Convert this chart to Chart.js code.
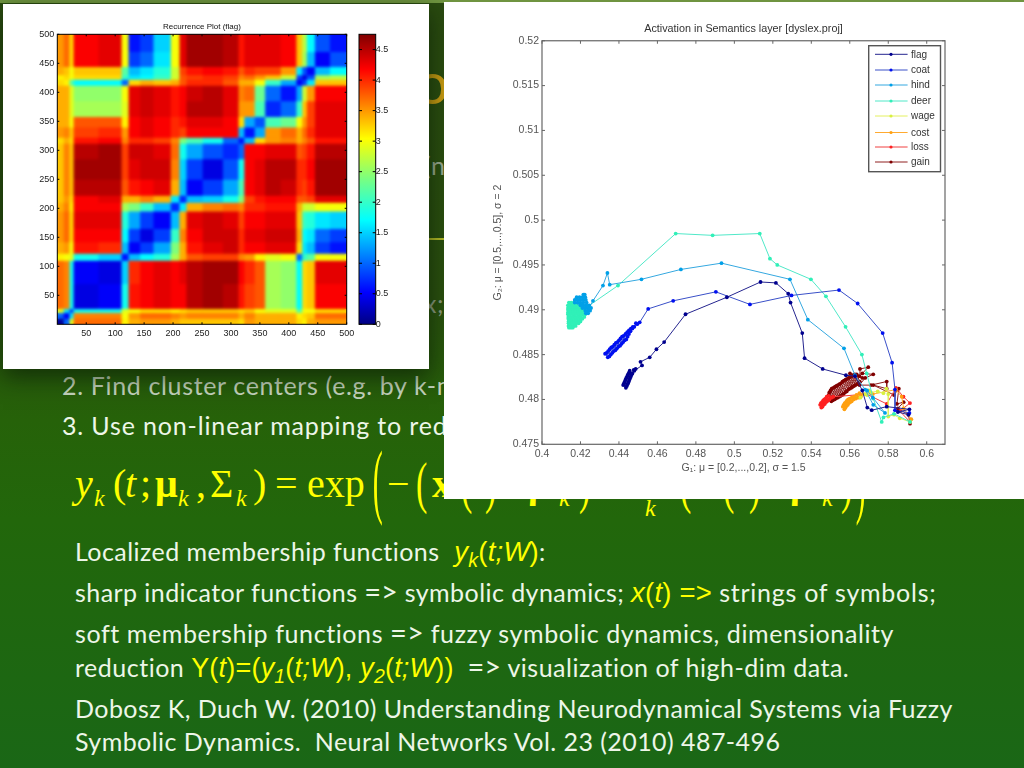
<!DOCTYPE html>
<html>
<head>
<meta charset="utf-8">
<script src="https://cdn.jsdelivr.net/npm/chart.js@4/dist/chart.umd.min.js"></script>
<style>
html,body{margin:0;padding:0;}
body{width:1024px;height:768px;overflow:hidden;position:relative;
 background:linear-gradient(#2a4a10 0,#2a4f0f 300px,#266209 420px,#22670b 520px,#1a6716 768px);}
#strip{position:absolute;left:0;top:0;width:1024px;height:3px;background:#6f9440;}
.panel{position:absolute;background:#fff;}
.panel canvas{position:absolute;left:0;top:0;filter:blur(.5px);}
#p1{left:3px;top:4px;width:426px;height:365px;box-shadow:0 8px 22px rgba(10,30,5,.7);}
#p2{left:444px;top:2px;width:580px;height:497px;}
.t{position:absolute;white-space:pre;font-family:Lato,"Open Sans",sans-serif;font-size:25px;line-height:30px;color:#edf6e8;letter-spacing:.44px;}
.g{font-size:29px;letter-spacing:0;line-height:0;}
.m{color:#ffff00;font-family:"Liberation Sans",Arial,sans-serif;font-style:italic;letter-spacing:.2px;font-size:27.5px;line-height:0;}
.m i{font-style:italic;}
.m span{font-style:normal;}
sub{font-size:.72em;line-height:0;vertical-align:-.3em;}
.f{position:absolute;white-space:pre;color:#ffff00;font-family:"Liberation Serif",serif;font-size:40px;line-height:46px;}
.s{font-size:24px;font-style:italic;}
.tall{transform:scale(.85,1.42);transform-origin:50% 50%;}
.huge{transform:scale(.75,2.05);transform-origin:50% 50%;}
</style>
</head>
<body>
<div id="strip"></div>
<div style="position:absolute;left:60px;top:238px;width:900px;height:2px;background:#b4bb26;"></div>
<div class="t" style="left:416px;top:47px;font-size:58px;line-height:70px;color:#c89a12;">o</div>
<div class="t" style="left:424px;top:150px;color:#9caa92;">(n</div>
<div class="t" style="left:424px;top:288px;color:#8d9c84;">x;</div>

<div class="t" style="left:62px;top:370px;color:#c6d4bf;letter-spacing:.65px;">2. Find cluster centers (e.g. by k-means</div>
<div class="t" style="left:62px;top:410px;letter-spacing:.85px;">3. Use non-linear mapping to reduce</div>

<div class="f" style="left:75px;top:461px;font-style:italic;">y</div>
<div class="f s" style="left:94px;top:475px;">k</div>
<div class="f" style="left:113px;top:461px;">(</div>
<div class="f" style="left:125px;top:461px;font-style:italic;">t</div>
<div class="f" style="left:140px;top:461px;">;</div>
<div class="f" style="left:155px;top:461px;font-weight:bold;">μ</div>
<div class="f s" style="left:178px;top:475px;">k</div>
<div class="f" style="left:196px;top:461px;">,</div>
<div class="f" style="left:210px;top:461px;">Σ</div>
<div class="f s" style="left:236px;top:475px;">k</div>
<div class="f" style="left:253px;top:461px;">)</div>
<div class="f" style="left:275px;top:461px;">=</div>
<div class="f" style="left:307px;top:461px;">exp</div>
<div class="f huge" style="left:371px;top:458px;">(</div>
<div class="f" style="left:387px;top:461px;">−</div>
<div class="f tall" style="left:415px;top:461px;">(</div>
<div class="f" style="left:432px;top:461px;font-weight:bold;">x</div>
<div class="f tall" style="left:460px;top:461px;">(</div>
<div class="f tall" style="left:484px;top:461px;">)</div>
<div class="f" style="left:528px;top:461px;font-weight:bold;">μ</div>
<div class="f s" style="left:559px;top:475px;">k</div>
<div class="f tall" style="left:578px;top:461px;">)</div>
<div class="f s" style="left:645px;top:485px;">k</div>
<div class="f tall" style="left:679px;top:461px;">(</div>
<div class="f tall" style="left:722px;top:461px;">(</div>
<div class="f tall" style="left:748px;top:461px;">)</div>
<div class="f" style="left:790px;top:461px;font-weight:bold;">μ</div>
<div class="f s" style="left:822px;top:475px;">k</div>
<div class="f tall" style="left:840px;top:461px;">)</div>
<div class="f huge" style="left:854px;top:458px;">)</div>

<div class="panel" id="p1">
  <canvas id="heat" width="426" height="365"></canvas>
  <canvas id="bar" width="70" height="365" style="left:352px;"></canvas>
</div>
<div class="panel" id="p2"><canvas id="traj" width="580" height="497"></canvas></div>

<div class="t" style="left:75px;top:536px;">Localized membership functions <span class="m" style="margin-left:8px;"><i>y<sub>k</sub></i><span>(</span><i>t;W</i><span>)</span></span>:</div>
<div class="t" style="left:75px;top:577px;">sharp indicator functions <span class="g">=&gt;</span> symbolic dynamics; <span class="m"><i>x</i><span>(</span><i>t</i><span>) =&gt;</span></span><span style="letter-spacing:.75px;"> strings of symbols;</span></div>
<div class="t" style="left:75px;top:618px;letter-spacing:.6px;">soft membership functions <span class="g">=&gt;</span> fuzzy symbolic dynamics, dimensionality</div>
<div class="t" style="left:75px;top:652px;letter-spacing:.5px;">reduction <span class="m" style="font-size:27px;"><span>Y(</span><i>t</i><span>)=(</span><i>y</i><sub>1</sub><span>(</span><i>t;W</i><span>),</span> <i>y</i><sub>2</sub><span>(</span><i>t;W</i><span>))</span></span>  <span class="g">=&gt;</span> visualization of high-dim data.</div>
<div class="t" style="left:75px;top:693px;">Dobosz K, Duch W. (2010) Understanding Neurodynamical Systems via Fuzzy</div>
<div class="t" style="left:75px;top:726px;">Symbolic Dynamics.  Neural Networks Vol. 23 (2010) 487-496</div>

<script>
// recurrence plot: band edges on both axes, lower triangle of values
const bandEdges = [0,10,20,27,70,110,122,142,165,195,210,222,250,285,312,322,340,358,385,412,422,430,444,470,500];
const heatRows = [
 [0.1],
 [1.0,0.5],
 [2.9,1.6,0.8],
 [3.7,3.6,1.8,0.4],
 [3.7,3.6,1.8,0.5,0.4],
 [3.1,3.0,2.9,1.8,1.5,0.6],
 [3.4,3.5,3.0,4.1,4.0,1.4,0.5],
 [3.5,3.7,3.2,4.2,4.2,1.7,0.8,0.4],
 [3.5,3.7,3.2,4.3,4.3,1.9,1.3,0.8,0.5],
 [3.4,3.6,3.1,4.2,4.2,2.6,2.4,2.0,1.4,0.7],
 [3.3,3.5,3.2,4.2,4.3,3.4,3.4,3.6,3.4,1.6,0.7],
 [3.3,3.6,3.3,4.5,4.5,3.8,4.1,4.2,4.3,3.4,1.4,0.5],
 [3.3,3.6,3.3,4.6,4.6,3.9,4.3,4.4,4.4,3.6,1.5,0.8,0.4],
 [3.3,3.6,3.3,4.5,4.6,3.9,4.4,4.4,4.3,3.7,1.8,1.3,0.9,0.7],
 [3.2,3.4,3.2,4.1,4.2,3.6,4.0,4.0,3.9,3.6,2.4,2.1,1.8,1.0,0.6],
 [3.5,3.6,3.3,3.9,4.0,3.5,4.2,4.3,4.2,4.0,3.9,4.2,4.2,4.2,1.4,0.6],
 [3.4,3.4,3.0,3.8,3.8,3.1,4.2,4.3,4.2,4.0,4.1,4.3,4.3,4.2,3.2,1.3,0.9],
 [3.4,3.4,2.9,2.6,2.6,2.9,4.3,4.4,4.3,4.1,4.2,4.5,4.5,4.3,3.5,3.5,2.1,0.7],
 [3.4,3.4,2.9,2.5,2.5,3.0,4.3,4.4,4.3,4.1,4.2,4.4,4.5,4.3,3.6,3.7,2.3,1.0,0.6],
 [3.2,3.1,2.2,1.7,1.7,1.0,3.2,3.4,3.3,3.4,3.8,4.0,4.0,3.8,3.4,3.4,3.0,2.0,1.3,0.5],
 [3.1,3.2,3.0,3.2,3.2,2.0,1.6,1.7,2.0,2.8,3.8,3.9,4.0,3.9,3.6,3.7,3.5,3.3,2.8,0.8,0.4],
 [3.4,3.3,3.0,3.3,3.3,2.2,1.4,1.6,1.9,2.8,3.9,4.1,4.2,4.1,3.8,4.0,3.9,3.9,3.5,1.6,0.9,0.5],
 [3.5,3.7,3.2,4.2,4.3,3.0,0.8,1.0,1.6,3.0,4.3,4.6,4.6,4.5,4.1,4.3,4.3,4.3,4.2,3.3,2.6,1.4,0.5],
 [3.5,3.7,3.2,4.2,4.3,3.0,0.6,0.8,1.5,3.0,4.3,4.6,4.6,4.5,4.1,4.3,4.3,4.3,4.2,3.3,2.7,1.7,0.9,0.6]
];
const heatTicks = [50,100,150,200,250,300,350,400,450,500];
const barMax = 4.75;

// activation trajectories, [G1, G2]
const flagXY = [[.4436,.4813],[.4422,.4816],[.4441,.4815],[.4426,.4818],[.4445,.4817],[.4430,.4820],[.4449,.4819],[.4434,.4822],[.4453,.4821],[.4438,.4824],[.4457,.4823],[.4443,.4826],[.4461,.4825],[.4447,.4828],[.4464,.4827],[.4452,.4830],[.4466,.4829],[.4456,.4832],[.4470,.4829],[.4477,.4833],[.4487,.4834],[.4480,.4832],[.4520,.4838],[.4512,.4842],[.4560,.4847],[.4595,.4856],[.4635,.4864],[.4746,.4895],[.4961,.4914],[.5136,.4931],[.5216,.4930],[.5280,.4918],[.5292,.4908],[.5353,.4874],[.5365,.4846],[.5459,.4834],[.5580,.4827],[.5627,.4826],[.5665,.4810],[.5691,.4791],[.5714,.4788],[.5792,.4792],[.5910,.4789],[.5850,.4786],[.5905,.4783]];
const coatXY = [[.4342,.4847],[.4328,.4851],[.4350,.4848],[.4336,.4852],[.4358,.4850],[.4344,.4854],[.4366,.4852],[.4352,.4856],[.4374,.4854],[.4360,.4858],[.4382,.4855],[.4368,.4859],[.4390,.4857],[.4376,.4861],[.4398,.4859],[.4384,.4863],[.4406,.4860],[.4392,.4864],[.4414,.4862],[.4400,.4866],[.4422,.4864],[.4408,.4868],[.4430,.4866],[.4416,.4870],[.4438,.4867],[.4424,.4871],[.4445,.4870],[.4434,.4873],[.4452,.4873],[.4443,.4875],[.4460,.4876],[.4452,.4877],[.4470,.4879],[.4462,.4879],[.4480,.4881],[.4472,.4881],[.4495,.4884],[.4488,.4885],[.4508,.4886],[.4552,.4901],[.4682,.4910],[.4904,.4920],[.5081,.4906],[.5297,.4916],[.5544,.4922],[.5641,.4907],[.5771,.4874],[.5820,.4841],[.5835,.4811],[.5835,.4788],[.5910,.4785]];
const hindXY = [[.4215,.4917],[.4222,.4917],[.4225,.4914],[.4210,.4914],[.4195,.4914],[.4180,.4914],[.4170,.4911],[.4185,.4911],[.4200,.4911],[.4215,.4911],[.4228,.4911],[.4232,.4908],[.4215,.4908],[.4200,.4908],[.4185,.4908],[.4170,.4908],[.4200,.4905],[.4215,.4905],[.4230,.4905],[.4245,.4905],[.4255,.4902],[.4240,.4902],[.4225,.4902],[.4210,.4902],[.4225,.4899],[.4240,.4899],[.4250,.4899],[.4240,.4896],[.4228,.4896],[.4265,.4910],[.4317,.4927],[.4340,.4941],[.4352,.4928],[.4517,.4934],[.4722,.4945],[.4933,.4952],[.5289,.4934],[.5382,.4889],[.5570,.4857],[.5627,.4827],[.5680,.4811],[.5722,.4794],[.5783,.4785],[.5720,.4802],[.5690,.4810]];
const deerXY = [[.4140,.4908],[.4152,.4908],[.4165,.4908],[.4205,.4905],[.4192,.4905],[.4179,.4905],[.4166,.4905],[.4153,.4905],[.4140,.4905],[.4135,.4905],[.4135,.4902],[.4148,.4902],[.4161,.4902],[.4174,.4902],[.4187,.4902],[.4200,.4902],[.4213,.4902],[.4225,.4902],[.4235,.4900],[.4222,.4900],[.4209,.4900],[.4196,.4900],[.4183,.4900],[.4170,.4900],[.4157,.4900],[.4144,.4900],[.4135,.4900],[.4135,.4897],[.4148,.4897],[.4161,.4897],[.4174,.4897],[.4187,.4897],[.4200,.4897],[.4213,.4897],[.4230,.4897],[.4225,.4895],[.4212,.4895],[.4199,.4895],[.4186,.4895],[.4173,.4895],[.4160,.4895],[.4147,.4895],[.4135,.4895],[.4137,.4892],[.4150,.4892],[.4163,.4892],[.4176,.4892],[.4189,.4892],[.4202,.4892],[.4220,.4892],[.4210,.4890],[.4197,.4890],[.4184,.4890],[.4171,.4890],[.4158,.4890],[.4145,.4890],[.4137,.4890],[.4138,.4887],[.4151,.4887],[.4164,.4887],[.4177,.4887],[.4190,.4887],[.4200,.4887],[.4190,.4885],[.4177,.4885],[.4164,.4885],[.4151,.4885],[.4138,.4885],[.4138,.4882],[.4151,.4882],[.4164,.4882],[.4175,.4882],[.4160,.4880],[.4150,.4880],[.4140,.4880],[.4240,.4904],[.4395,.4927],[.4695,.4985],[.4887,.4983],[.5132,.4985],[.5185,.4957],[.5223,.4950],[.5398,.4934],[.5476,.4915],[.5578,.4881],[.5663,.4850],[.5688,.4829],[.5722,.4801],[.5766,.4775],[.5775,.4780],[.5830,.4784],[.5913,.4775]];
const wageXY = [[.5655,.4802],[.5680,.4806],[.5700,.4810],[.5690,.4805],[.5710,.4808],[.5745,.4809],[.5775,.4807],[.5790,.4812],[.5800,.4806],[.5800,.4781],[.5830,.4783],[.5860,.4779],[.5913,.4775]];
const costXY = [[.5572,.4789],[.5564,.4792],[.5578,.4791],[.5568,.4794],[.5584,.4793],[.5574,.4796],[.5590,.4794],[.5580,.4797],[.5596,.4796],[.5586,.4799],[.5602,.4797],[.5592,.4800],[.5610,.4798],[.5600,.4801],[.5620,.4800],[.5610,.4802],[.5632,.4801],[.5622,.4803],[.5645,.4802],[.5635,.4805],[.5660,.4804],[.5650,.4807],[.5670,.4806],[.5720,.4806],[.5840,.4811],[.5870,.4803],[.5880,.4790],[.5920,.4778]];
const lossXY = [[.5452,.4791],[.5446,.4794],[.5458,.4792],[.5450,.4796],[.5464,.4794],[.5456,.4797],[.5470,.4795],[.5462,.4799],[.5476,.4797],[.5468,.4800],[.5482,.4798],[.5474,.4801],[.5488,.4799],[.5480,.4803],[.5494,.4800],[.5490,.4804],[.5505,.4802],[.5514,.4803],[.5688,.4806],[.5792,.4795],[.5840,.4813],[.5879,.4803],[.5913,.4796],[.5860,.4787],[.5913,.4775]];
const gainXY = [[.5504,.4798],[.5490,.4805],[.5512,.4799],[.5494,.4808],[.5520,.4800],[.5500,.4810],[.5528,.4801],[.5506,.4812],[.5536,.4802],[.5514,.4813],[.5544,.4803],[.5522,.4814],[.5552,.4804],[.5530,.4815],[.5560,.4805],[.5538,.4816],[.5568,.4806],[.5546,.4817],[.5576,.4808],[.5554,.4818],[.5584,.4809],[.5562,.4820],[.5592,.4811],[.5570,.4821],[.5600,.4812],[.5578,.4822],[.5608,.4813],[.5586,.4823],[.5614,.4814],[.5594,.4824],[.5622,.4815],[.5602,.4825],[.5630,.4816],[.5610,.4826],[.5638,.4817],[.5618,.4827],[.5646,.4818],[.5626,.4828],[.5652,.4820],[.5636,.4828],[.5665,.4824],[.5601,.4829],[.5650,.4826],[.5653,.4834],[.5696,.4836],[.5665,.4829],[.5722,.4828],[.5680,.4824],[.5650,.4816],[.5710,.4816],[.5792,.4820],[.5792,.4812],[.5722,.4816],[.5830,.4805],[.5855,.4812],[.5845,.4795],[.5880,.4797],[.5850,.4790],[.5905,.4783],[.5913,.4773]];

const seriesNames = ["flag","coat","hind","deer","wage","cost","loss","gain"];
const seriesData = [flagXY,coatXY,hindXY,deerXY,wageXY,costXY,lossXY,gainXY];
const pointColors = ["#00008f","#0010f0","#00a0e8","#30f0b8","#d8f040","#ffa010","#ff2020","#800000"];
const lineColors = ["#25258f","#3a50c8","#35a8e0","#50e8c8","#e4f060","#ffaa30","#f04040","#902020"];
const x1Ticks = [.4,.42,.44,.46,.48,.5,.52,.54,.56,.58,.6];
const y1Ticks = [.475,.48,.485,.49,.495,.5,.505,.51,.515,.52];

// jet colormap
const jetStops = [[0,0,0,130],[.11,0,0,255],[.36,0,255,255],[.5,120,255,130],[.64,255,255,0],[.88,255,0,0],[1,128,0,0]];
function jet(v){
  const f = v/barMax;
  for(let i=1;i<jetStops.length;i++){
    const a=jetStops[i-1], b=jetStops[i];
    if(f<=b[0]){
      const k=(f-a[0])/(b[0]-a[0]);
      return `rgb(${a[1]+(b[1]-a[1])*k},${a[2]+(b[2]-a[2])*k},${a[3]+(b[3]-a[3])*k})`;
    }
  }
  return "rgb(128,0,0)";
}

// frame and inward MATLAB style ticks
const framePlugin = {
  id:"frame",
  afterDatasetsDraw(chart,args,o){
    const {ctx,chartArea:a} = chart;
    ctx.save();
    ctx.strokeStyle = o.color; ctx.lineWidth = o.width;
    ctx.strokeRect(a.left,a.top,a.right-a.left,a.bottom-a.top);
    ctx.lineWidth = 1;
    ctx.beginPath();
    for(const id in chart.scales){
      const s = chart.scales[id];
      if(!s.options.display) continue;
      s.ticks.forEach((t,i)=>{
        const p = s.getPixelForTick(i);
        if(s.isHorizontal()){
          ctx.moveTo(p,a.bottom); ctx.lineTo(p,a.bottom-o.len);
          ctx.moveTo(p,a.top); ctx.lineTo(p,a.top+o.len);
        }else{
          ctx.moveTo(a.left,p); ctx.lineTo(a.left+o.len,p);
          ctx.moveTo(a.right,p); ctx.lineTo(a.right-o.len,p);
        }
      });
    }
    ctx.stroke();
    ctx.restore();
  }
};

// the source image is a soft bitmap, so soften the cells only, inside the plot area
const softenPlugin = {
  id:"soften",
  afterDatasetsDraw(chart){
    const {ctx,canvas,chartArea:a} = chart;
    const off = document.createElement("canvas");
    off.width = canvas.width; off.height = canvas.height;
    off.getContext("2d").drawImage(canvas,0,0);
    ctx.save();
    ctx.beginPath(); ctx.rect(a.left,a.top,a.right-a.left,a.bottom-a.top); ctx.clip();
    ctx.filter = "blur(1.5px)";
    ctx.drawImage(off,a.left,a.top,a.right-a.left,a.bottom-a.top,a.left,a.top,a.right-a.left,a.bottom-a.top);
    ctx.restore();
  }
};

// heat map: one floating bar dataset per column band
const cellAt = (r,c) => r>=c ? heatRows[r][c] : heatRows[c][r];
const heatPxPerUnit = 289.4/500;
const heatSets = bandEdges.slice(0,-1).map((lo,c)=>{
  const hi = bandEdges[c+1];
  return {
    barThickness:(hi-lo)*heatPxPerUnit+.6,
    borderWidth:0,
    grouped:false,
    backgroundColor:heatRows.map((_,r)=>jet(cellAt(r,c))),
    data:heatRows.map((_,r)=>({x:(lo+hi)/2,y:[bandEdges[r],bandEdges[r+1]]}))
  };
});

new Chart(document.getElementById("heat"),{
  type:"bar",
  data:{datasets:heatSets},
  options:{
    responsive:false,animation:false,
    layout:{padding:{right:82.3}},
    plugins:{
      legend:{display:false},tooltip:{enabled:false},
      frame:{color:"#000",width:1,len:2},
      title:{display:true,fullSize:false,text:"Recurrence Plot (flag)",color:"#111",font:{family:"Liberation Sans",size:8,weight:"normal"},padding:{top:17.5,bottom:3.2}}
    },
    scales:{
      x:{type:"linear",offset:false,min:0,max:500,grid:{display:false,drawTicks:false},border:{display:false},
        afterBuildTicks(s){s.ticks=heatTicks.map(v=>({value:v}));},
        afterFit(s){s.height=44.7;},
        ticks:{autoSkip:false,maxRotation:0,color:"#222",padding:4,font:{family:"Liberation Sans",size:9}}},
      y:{type:"linear",min:0,max:500,grid:{display:false,drawTicks:false},border:{display:false},
        afterBuildTicks(s){s.ticks=heatTicks.map(v=>({value:v}));},
        afterFit(s){s.width=54.3;},
        ticks:{autoSkip:false,color:"#222",padding:3,font:{family:"Liberation Sans",size:9}}}
    }
  },
  plugins:[softenPlugin,framePlugin]
});

// colour bar, single floating bar with a jet gradient
new Chart(document.getElementById("bar"),{
  type:"bar",
  data:{labels:["level"],datasets:[{
    data:[[0,barMax]],borderWidth:0,barPercentage:1,categoryPercentage:1,
    backgroundColor(ctx){
      const a=ctx.chart.chartArea;
      if(!a) return "#000";
      const g=ctx.chart.ctx.createLinearGradient(0,a.bottom,0,a.top);
      jetStops.forEach(s=>g.addColorStop(s[0],`rgb(${s[1]},${s[2]},${s[3]})`));
      return g;
    }
  }]},
  options:{
    responsive:false,animation:false,
    layout:{padding:{left:4,top:30.3,bottom:44.7}},
    plugins:{legend:{display:false},tooltip:{enabled:false},frame:{color:"#000",width:1,len:3}},
    scales:{
      x:{display:false},
      y:{position:"right",min:0,max:barMax,grid:{display:false,drawTicks:false},border:{display:false},
        afterFit(s){s.width=49.3;},
        ticks:{stepSize:.5,includeBounds:false,color:"#222",padding:0,font:{family:"Liberation Sans",size:9},callback:v=>String(v)}}
    }
  },
  plugins:[framePlugin]
});

// legend drawn in the axes like the MATLAB one
const legendPlugin = {
  id:"boxLegend",
  afterDraw(chart){
    const ctx=chart.ctx;
    const rows=[52.3,68,83,99,114,130.5,145,160];
    ctx.save();
    ctx.fillStyle="#fff"; ctx.fillRect(424.7,43.7,71.8,126);
    ctx.strokeStyle="#555"; ctx.lineWidth=1.4; ctx.strokeRect(424.7,43.7,71.8,126);
    ctx.font="10px 'Liberation Sans'"; ctx.textBaseline="middle";
    chart.data.datasets.forEach((d,i)=>{
      ctx.strokeStyle=d.borderColor; ctx.lineWidth=1;
      ctx.beginPath(); ctx.moveTo(431,rows[i]); ctx.lineTo(463.6,rows[i]); ctx.stroke();
      ctx.fillStyle=d.pointBackgroundColor;
      ctx.beginPath(); ctx.arc(447,rows[i],1.6,0,7); ctx.fill();
      ctx.fillStyle="#333"; ctx.fillText(d.label,467,rows[i]+.5);
    });
    ctx.restore();
  }
};

new Chart(document.getElementById("traj"),{
  type:"scatter",
  data:{datasets:seriesNames.map((n,i)=>({
    label:n,
    data:seriesData[i].map(p=>({x:p[0],y:p[1]})),
    showLine:true,tension:0,borderWidth:1,
    borderColor:lineColors[i],
    pointBackgroundColor:pointColors[i],
    pointBorderWidth:0,pointRadius:1.9
  }))},
  options:{
    responsive:false,animation:false,
    layout:{padding:{left:43.5,right:79,bottom:20.7}},
    plugins:{
      legend:{display:false},tooltip:{enabled:false},
      frame:{color:"#666",width:1.2,len:3},
      title:{display:true,fullSize:false,text:"Activation in Semantics layer [dyslex.proj]",color:"#333",font:{family:"Liberation Sans",size:10.8,weight:"normal"},padding:{top:20.5,bottom:5.3}}
    },
    scales:{
      x:{type:"linear",min:.4,max:.6095,grid:{display:false,drawTicks:false},border:{display:false},
        afterBuildTicks(s){s.ticks=x1Ticks.map(v=>({value:v}));},
        afterFit(s){s.height=34;},
        ticks:{autoSkip:false,maxRotation:0,color:"#555",padding:4,font:{family:"Liberation Sans",size:10.5},callback:v=>String(+v.toFixed(3))},
        title:{display:true,text:"G₁: μ = [0.2,...,0.2], σ = 1.5",color:"#555",font:{family:"Liberation Sans",size:10.5},padding:{top:3}}},
      y:{type:"linear",min:.475,max:.52,grid:{display:false,drawTicks:false},border:{display:false},
        afterBuildTicks(s){s.ticks=y1Ticks.map(v=>({value:v}));},
        afterFit(s){s.width=54.5;},
        ticks:{autoSkip:false,color:"#555",padding:3,font:{family:"Liberation Sans",size:10.5},callback:v=>String(+v.toFixed(3))},
        title:{display:true,text:"G₂: μ = [0.5,...,0.5], σ = 2",color:"#555",font:{family:"Liberation Sans",size:10.5},padding:{bottom:8}}}
    }
  },
  plugins:[framePlugin,legendPlugin]
});
</script>
</body>
</html>
